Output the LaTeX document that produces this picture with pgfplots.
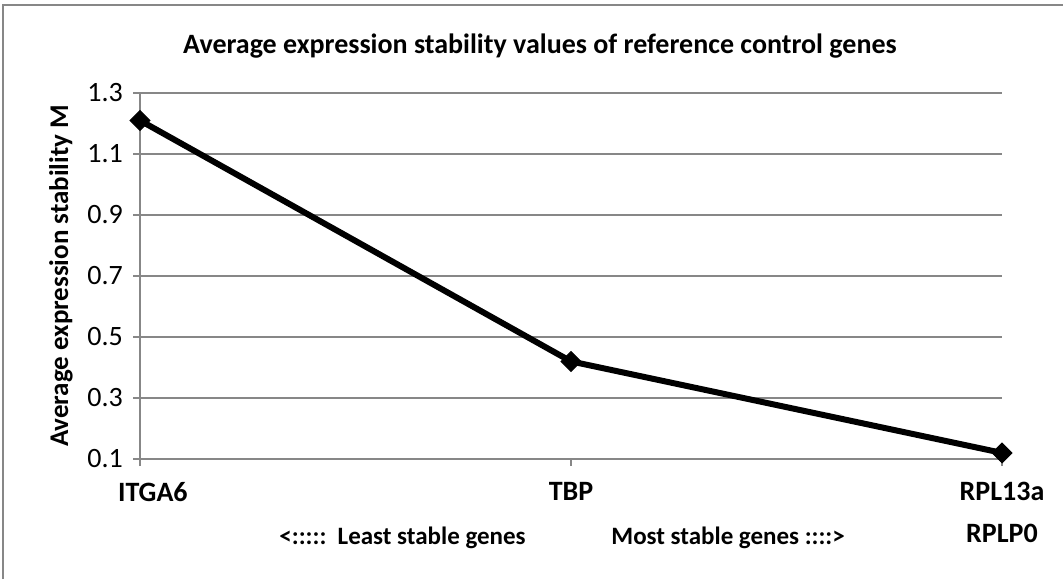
\documentclass[border=0pt]{standalone}
\usepackage{pgfplots}
\pgfplotsset{compat=1.18}
\usepackage{fontspec}
\setmainfont{Carlito}
\definecolor{gridgray}{HTML}{878787}
\begin{document}
\begin{tikzpicture}
\useasboundingbox (0,0) rectangle (531.5pt,289.5pt);
\draw[gridgray, line width=1pt] (1.5pt,0) -- (1.5pt,287pt) -- (531.5pt,287pt);
\begin{axis}[
  at={(70pt,60pt)}, anchor=origin,
  scale only axis,
  width=431pt, height=183pt,
  xmin=0, xmax=2, ymin=0.1, ymax=1.3,
  xtick={0,1,2},
  xticklabels={\hphantom{xx}ITGA6,TBP,{RPL13a\\RPLP0}},
  xticklabel style={font=\bfseries\fontsize{14}{21}\selectfont, align=center, yshift=-4.5pt},
  ytick={0.1,0.3,...,1.3},
  yticklabel style={font=\fontsize{14}{16}\selectfont, /pgf/number format/fixed, /pgf/number format/precision=1, xshift=-1.5pt},
  /pgf/number format/assume math mode=true,
  axis x line*=bottom, axis y line*=left,
  axis line style={gridgray, line width=1.1pt},
  ymajorgrids, grid style={gridgray, line width=1.1pt},
  tick style={gridgray, line width=1.1pt},
  tick align=outside, major tick length=3.5pt,
  clip=false,
]
\addplot[black, line width=3pt, mark=square*, mark size=3.5pt, mark options={solid, rotate=45, line width=0.5pt}]
  coordinates {(0,1.21) (1,0.42) (2,0.12)};
\end{axis}
\node[font=\bfseries\fontsize{14}{16}\selectfont] at (270pt,266.5pt) {Average expression stability values of reference control genes};
\node[rotate=90, font=\bfseries\fontsize{13.5}{16}\selectfont] at (30.5pt,151.5pt) {Average expression stability M};
\node[anchor=east, inner sep=0pt, font=\bfseries\fontsize{12.5}{15}\selectfont] at (263pt,20.5pt) {<:::::\ \ Least stable genes};
\node[anchor=west, inner sep=0pt, font=\bfseries\fontsize{12.5}{15}\selectfont] at (305.5pt,20.5pt) {Most stable genes ::::>};
\end{tikzpicture}
\end{document}
